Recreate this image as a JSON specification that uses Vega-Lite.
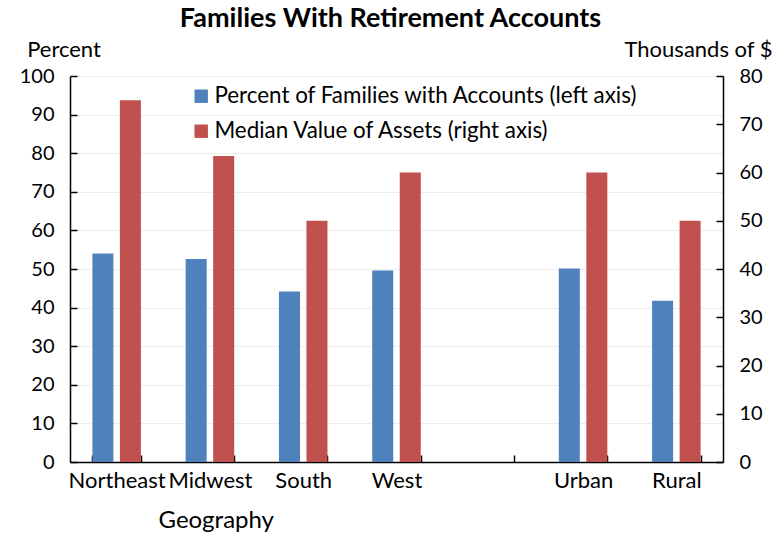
{
  "$schema": "https://vega.github.io/schema/vega-lite/v6.json",
  "autosize": "none",
  "width": 653,
  "height": 386,
  "padding": {"left": 70, "top": 76, "right": 50, "bottom": 71},
  "background": "white",
  "title": {
    "text": "Families With Retirement Accounts",
    "font": "Lato",
    "fontSize": 27,
    "fontWeight": "bold",
    "color": "black",
    "anchor": "middle",
    "frame": "group",
    "baseline": "alphabetic",
    "offset": 12,
    "dy": 28,
    "dx": -6
  },
  "config": {
    "view": {"stroke": null},
    "font": "Lato",
    "axis": {
      "labelFont": "Lato",
      "titleFont": "Lato",
      "labelFontSize": 20,
      "titleFontSize": 22,
      "titleFontWeight": "normal",
      "labelColor": "black",
      "titleColor": "black",
      "domainColor": "black",
      "domainWidth": 1.5,
      "tickColor": "black",
      "tickWidth": 1.5
    }
  },
  "data": {
    "values": [
      {"geo": "Northeast", "series": "Percent of Families with Accounts (left axis)", "value": 54.0},
      {"geo": "Midwest", "series": "Percent of Families with Accounts (left axis)", "value": 52.6},
      {"geo": "South", "series": "Percent of Families with Accounts (left axis)", "value": 44.2},
      {"geo": "West", "series": "Percent of Families with Accounts (left axis)", "value": 49.6},
      {"geo": "Urban", "series": "Percent of Families with Accounts (left axis)", "value": 50.1},
      {"geo": "Rural", "series": "Percent of Families with Accounts (left axis)", "value": 41.8},
      {"geo": "Northeast", "series": "Median Value of Assets (right axis)", "value": 75},
      {"geo": "Midwest", "series": "Median Value of Assets (right axis)", "value": 63.4},
      {"geo": "South", "series": "Median Value of Assets (right axis)", "value": 50},
      {"geo": "West", "series": "Median Value of Assets (right axis)", "value": 60},
      {"geo": "Urban", "series": "Median Value of Assets (right axis)", "value": 60},
      {"geo": "Rural", "series": "Median Value of Assets (right axis)", "value": 50}
    ]
  },
  "encoding": {
    "x": {
      "field": "geo",
      "type": "nominal",
      "scale": {
        "domain": ["Northeast", "Midwest", "South", "West", " ", "Urban", "Rural"],
        "paddingInner": 0.48,
        "paddingOuter": 0.24
      },
      "axis": {
        "title": "Geography",
        "titleFontSize": 24,
        "titleX": 88,
        "titleY": 65,
        "titleAlign": "left",
        "titleAnchor": null,
        "titleBaseline": "alphabetic",
        "labelAngle": 0,
        "labelFontSize": 22,
        "labelOverlap": false,
        "labelLimit": 0,
        "labelPadding": 15,
        "tickBand": "extent",
        "tickSize": -7,
        "grid": false
      }
    },
    "xOffset": {
      "field": "series",
      "type": "nominal",
      "scale": {
        "domain": ["Percent of Families with Accounts (left axis)", "Median Value of Assets (right axis)"],
        "paddingInner": 0.236,
        "paddingOuter": 0
      }
    },
    "color": {
      "field": "series",
      "type": "nominal",
      "scale": {
        "domain": ["Percent of Families with Accounts (left axis)", "Median Value of Assets (right axis)"],
        "range": ["#4F81BD", "#C0504D"]
      },
      "legend": {
        "title": null,
        "orient": "none",
        "legendX": 120,
        "legendY": 9,
        "symbolType": "square",
        "symbolSize": 180,
        "symbolOpacity": 1,
        "symbolStrokeWidth": 0,
        "labelFont": "Lato",
        "labelFontSize": 22.4,
        "labelColor": "black",
        "labelLimit": 0,
        "labelOffset": 2,
        "rowPadding": 12
      }
    }
  },
  "layer": [
    {
      "transform": [{"filter": "datum.series === 'Percent of Families with Accounts (left axis)'"}],
      "mark": {"type": "bar"},
      "encoding": {
        "y": {
          "field": "value",
          "type": "quantitative",
          "scale": {"domain": [0, 100], "nice": false},
          "axis": {
            "title": "Percent",
            "titleAngle": 0,
            "titleX": -6.5,
            "titleY": -20,
            "titleAlign": "center",
            "titleAnchor": null,
            "titleBaseline": "alphabetic",
            "values": [0, 10, 20, 30, 40, 50, 60, 70, 80, 90, 100],
            "tickSize": -7,
            "labelPadding": 23,
            "grid": true,
            "gridColor": "#ececec",
            "gridWidth": 1
          }
        }
      }
    },
    {
      "transform": [{"filter": "datum.series === 'Median Value of Assets (right axis)'"}],
      "mark": {"type": "bar"},
      "encoding": {
        "y": {
          "field": "value",
          "type": "quantitative",
          "scale": {"domain": [0, 80], "nice": false},
          "axis": {
            "orient": "right",
            "title": "Thousands of $",
            "titleAngle": 0,
            "titleX": 49,
            "titleY": -20,
            "titleAlign": "right",
            "titleAnchor": null,
            "titleBaseline": "alphabetic",
            "values": [0, 10, 20, 30, 40, 50, 60, 70, 80],
            "tickSize": -7,
            "labelPadding": 23,
            "grid": false
          }
        }
      }
    }
  ],
  "resolve": {"scale": {"y": "independent"}}
}
